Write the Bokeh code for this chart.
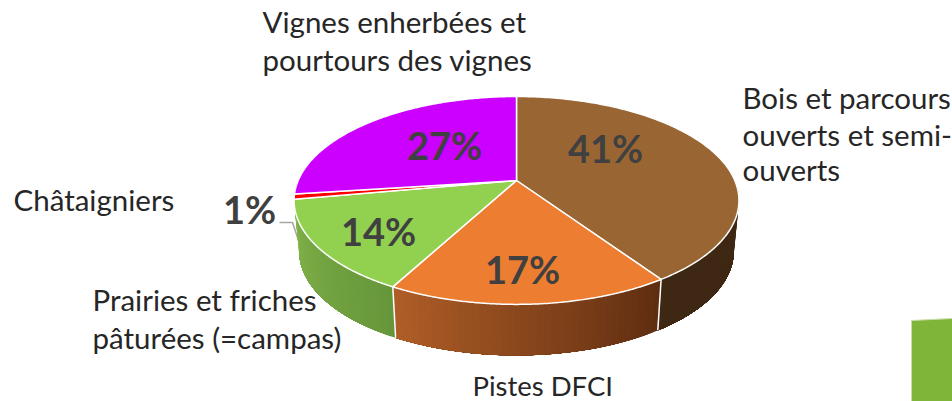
import numpy as np
from bokeh.plotting import figure
from bokeh.models import Range1d
from bokeh.core.properties import value
from bokeh.embed import file_html
from bokeh.resources import INLINE

# --- data
categories = ["Bois et parcours ouverts et semi-ouverts", "Pistes DFCI",
              "Prairies et friches pâturées (=campas)", "Châtaigniers",
              "Vignes enherbées et pourtours des vignes"]
shares = [40.6, 17.2, 14.3, 0.8, 27.1]
top_colors = ["#996633", "#ED7D31", "#92D050", "#FF0000", "#CC00FF"]
wall_left = ["#3E2713", "#B05E27", "#84B64B", "#FF0000", "#CC00FF"]
wall_right = ["#3E2713", "#5E2D10", "#66963A", "#FF0000", "#CC00FF"]

CX, CY = 516.0, 180.0
K, A, B = 0.192, 100.1, 218.3
DEPTH, SHRINK = 51.0, 0.977


def top_xy(a):
    a = np.radians(a)
    X, Y = np.sin(a), np.cos(a)
    d = 1 + K * Y
    return CX + B * X / d, CY - A * Y / d


def bottom_xy(a):
    x, y = top_xy(a)
    return CX + SHRINK * (x - CX), y + DEPTH


def mix(c1, c2, t):
    a = [int(c1[i:i + 2], 16) for i in (1, 3, 5)]
    b = [int(c2[i:i + 2], 16) for i in (1, 3, 5)]
    return "#%02x%02x%02x" % tuple(int(round(p + (q - p) * t)) for p, q in zip(a, b))


p = figure(width=952, height=401, output_backend="svg", toolbar_location=None,
           x_range=Range1d(0, 952), y_range=Range1d(401, 0),
           min_border=0, outline_line_color=None, background_fill_color="white")
p.axis.visible = False
p.grid.visible = False

# decorative corner of a green shape cut by the frame
p.patch([911, 952, 952, 911], [320, 318, 401, 401], fill_color="#7FB539", line_color="#C9DFA8", line_width=1)

# leader line of the smallest share
p.line([279, 292, 299], [222, 222, 243], line_color="#A6A6A6", line_width=1.5)

bounds = np.cumsum([0] + shares) * 3.6

# walls (tops are drawn over them); each band runs on to the far end so no seams show
for i in range(3):
    a0, a1 = bounds[i], bounds[i + 1]
    if i == 0:
        a0 = 80.0
    if i == 2:
        a1 = 262.0
    n = 40
    edges = np.linspace(a0, a1, n + 1)
    for j in range(n):
        seg = np.linspace(edges[j], a1, 40)
        tx, ty = top_xy(seg)
        bx, by = bottom_xy(seg)
        col = mix(wall_left[i], wall_right[i], 1 - (j + 0.5) / n)
        p.patch(list(tx) + list(bx[::-1]), list(ty) + list(by[::-1]),
                fill_color=col, line_color=None)

# white edges between walls
for a in bounds[1:3]:
    tx, ty = top_xy(a)
    bx, by = bottom_xy(a)
    p.line([tx, bx], [ty, by], line_color="white", line_width=1.5)

# top faces
for i in range(5):
    seg = np.linspace(bounds[i], bounds[i + 1], 160)
    tx, ty = top_xy(seg)
    p.patch([CX] + list(tx), [CY] + list(ty), fill_color=top_colors[i],
            line_color="white", line_width=1.5, line_join="round")

# percentage labels
pct_x = [605, 522, 378, 249, 444]
pct_y = [147, 268, 230, 208, 144]
p.text(pct_x, pct_y, text=[f"{round(v)}%" for v in shares], text_font=value("Lato"),
       text_font_size="38px", text_font_style="bold", text_color="#404040",
       text_align="center", text_baseline="alphabetic")

# category labels, wrapped as in the picture
lab_text = ["Vignes enherbées et", "pourtours des vignes",
            "Bois et parcours", "ouverts et semi-", "ouverts",
            "Châtaigniers", "Prairies et friches", "pâturées (=campas)"]
lab_x = [262, 262, 742, 742, 742, 13, 92, 92]
lab_y = [21, 59, 97, 134, 169, 199, 299, 337]
p.text(lab_x, lab_y, text=lab_text, text_font=value("Lato"), text_font_size="29.5px",
       text_color="#262626", text_align="left", text_baseline="alphabetic")
p.text([472], [385], text=[categories[1]], text_font=value("Lato"), text_font_size="27.5px",
       text_color="#262626", text_align="left", text_baseline="alphabetic")

open("out.html", "w").write(file_html(p, INLINE))
